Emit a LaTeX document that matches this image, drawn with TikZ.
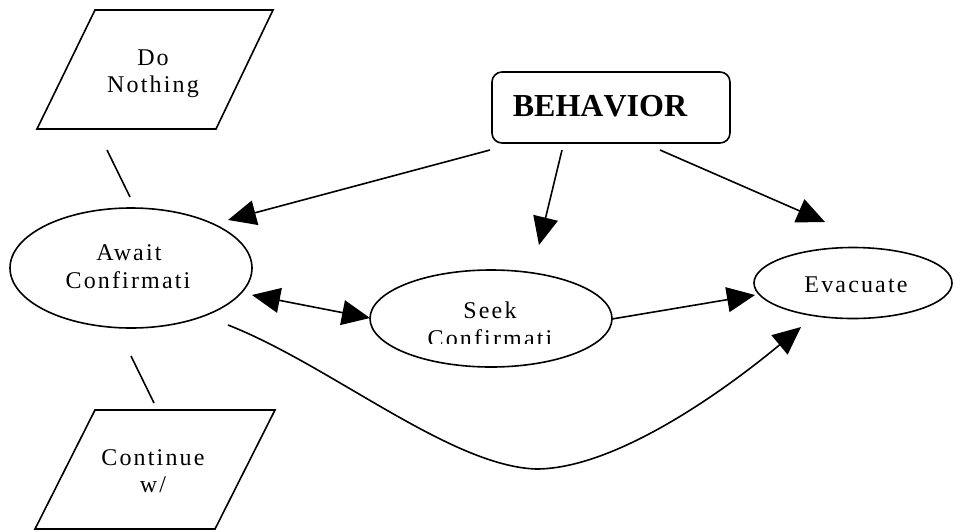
\documentclass[tikz,border=0pt]{standalone}
\usepackage{fontspec}
\setmainfont{Liberation Serif}
\newfontfamily\lbl[LetterSpace=9]{Liberation Serif}
\newfontfamily\bhv[Kerning=Off]{Liberation Serif}
\usetikzlibrary{shapes.geometric,arrows.meta}
\begin{document}
\begin{tikzpicture}[x=1pt,y=-1pt,
  shp/.style={draw, line width=1.6pt, inner sep=0pt},
  oval/.style={shp, ellipse},
  txt/.style={anchor=base, inner sep=0pt, font=\lbl\fontsize{24}{28}\selectfont},
  arr/.style={line width=1.6pt, -{Triangle[length=28pt,width=25pt]}},
  darr/.style={line width=1.6pt, {Triangle[length=28pt,width=25pt]}-{Triangle[length=28pt,width=25pt]}},
  plain/.style={line width=1.6pt}]
\useasboundingbox (0,0) rectangle (961,531);

% parallelogram: Do Nothing
\coordinate (dn1) at (95,10);
\coordinate (dn2) at (273,10);
\coordinate (dn3) at (216,129);
\coordinate (dn4) at (37,129);
\draw[plain, line join=miter] (dn1) -- (dn2) -- (dn3) -- (dn4) -- cycle;
\node[txt] (dnA) at (153,65) {Do};
\node[txt] (dnB) at (153,92) {Nothing};

% parallelogram: Continue w/
\coordinate (cw1) at (95,410);
\coordinate (cw2) at (275,410);
\coordinate (cw3) at (215,529);
\coordinate (cw4) at (35,529);
\draw[plain, line join=miter] (cw1) -- (cw2) -- (cw3) -- (cw4) -- cycle;
\node[txt] (cwA) at (153,465) {Continue};
\node[txt] (cwB) at (153,492) {w/};

% BEHAVIOR box
\node[shp, rectangle, rounded corners=10pt, minimum width=238pt, minimum height=71pt] (behavior) at (611,107.5) {};
\node[anchor=base, inner sep=0pt, font=\bhv\bfseries\fontsize{32}{36}\selectfont] (behaviorT) at (600,116) {BEHAVIOR};

% ellipses
\node[oval, minimum width=242pt, minimum height=120pt] (await) at (131,268) {};
\node[txt] (awaitA) at (129,260) {Await};
\node[txt] (awaitB) at (128,288) {Confirmati};

\node[oval, minimum width=242pt, minimum height=97pt] (seek) at (491,318.5) {};
\node[txt] (seekA) at (490,318) {Seek};
\begin{scope}
\clip (0,0) rectangle (961,343);
\node[txt] (seekB) at (490,346) {Confirmati};
\end{scope}

\node[oval, minimum width=198pt, minimum height=71pt] (evac) at (853,283) {};
\node[txt] (evacA) at (856,292) {Evacuate};

% connector end points
\coordinate (b1) at (490,150);
\coordinate (b2) at (562,150);
\coordinate (b3) at (660,150);
\coordinate (t1) at (228,220);
\coordinate (t2) at (539,245);
\coordinate (t3) at (825,222);
\coordinate (as1) at (252,295);
\coordinate (as2) at (370,318);
\coordinate (se1) at (612,319);
\coordinate (se2) at (755,295);
\coordinate (cv0) at (228,325);
\coordinate (cvm) at (536,469);
\coordinate (cv1) at (801,327);
\coordinate (l1a) at (107,150);
\coordinate (l1b) at (130,197);
\coordinate (l2a) at (131,356);
\coordinate (l2b) at (154,403);

% connectors
\draw[arr] (b1) -- (t1);
\draw[arr] (b2) -- (t2);
\draw[arr] (b3) -- (t3);
\draw[darr] (as1) -- (as2);
\draw[arr] (se1) -- (se2);
\draw[arr] (cv0) .. controls (330,365) and (450,466) .. (cvm) .. controls (620,469) and (735,382) .. (cv1);
\draw[plain] (l1a) -- (l1b);
\draw[plain] (l2a) -- (l2b);
\end{tikzpicture}
\end{document}
